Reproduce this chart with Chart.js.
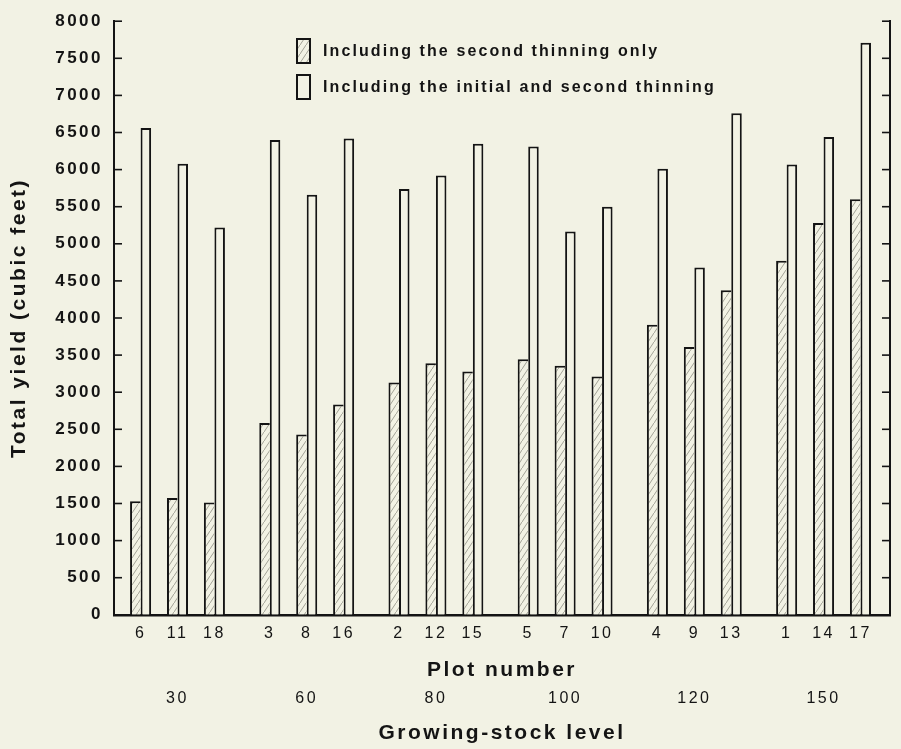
<!DOCTYPE html>
<html>
<head>
<meta charset="utf-8">
<title>Total yield by plot and growing-stock level</title>
<script src="https://cdn.jsdelivr.net/npm/chart.js@4/dist/chart.umd.min.js"></script>
<style>
  html, body { margin: 0; padding: 0; background: #f2f2e4; }
  canvas { display: block; }
</style>
</head>
<body>
<canvas id="yield" width="901" height="749"></canvas>
<script>
// Plot numbers, three plots per growing-stock level
const plotNumbers = ['6', '11', '18', '3', '8', '16', '2', '12', '15', '5', '7', '10', '4', '9', '13', '1', '14', '17'];
const growingStockLevels = ['30', '60', '80', '100', '120', '150'];

// Total yield in cubic feet
const secondThinningOnly = [1530, 1575, 1515, 2585, 2430, 2835, 3130, 3390, 3280, 3445, 3355, 3210, 3910, 3610, 4375, 4770, 5280, 5600];
const initialAndSecondThinning = [6560, 6080, 5220, 6400, 5660, 6420, 5740, 5920, 6350, 6310, 5165, 5500, 6010, 4680, 6760, 6070, 6440, 7710];

const seriesNames = ['Including the second thinning only', 'Including the initial and second thinning'];
const yTicks = { min: 0, max: 8000, step: 500 };

// Layout along the x axis: plots sit one unit apart, levels 3.5 units apart
const PLOTS_PER_LEVEL = 3;
const LEVEL_STEP = 3.5;
const plotPos = plotNumbers.map((_, i) => Math.floor(i / PLOTS_PER_LEVEL) * LEVEL_STEP + (i % PLOTS_PER_LEVEL));
const levelPos = growingStockLevels.map((_, g) => g * LEVEL_STEP + 1);
const X_MIN = -0.72, X_MAX = 20.3;

const PAPER = '#f2f2e4';
const INK = '#141414';
const FONT = "'Liberation Sans', Arial, Helvetica, sans-serif";
const SPACING = '2.5px';

function hatchPattern() {
  const w = 6, h = 9;
  const c = document.createElement('canvas');
  c.width = w; c.height = h;
  const g = c.getContext('2d');
  g.fillStyle = PAPER;
  g.fillRect(0, 0, w, h);
  g.strokeStyle = '#a2a296';
  g.lineWidth = 1;
  g.beginPath();
  g.moveTo(0, h);
  g.lineTo(w, 0);
  g.stroke();
  return g.createPattern(c, 'repeat');
}

// Paper background and the wide letter spacing of the printed type
const typeset = {
  id: 'typeset',
  beforeUpdate(chart) { chart.ctx.letterSpacing = SPACING; },
  beforeDraw(chart) {
    const c = chart.ctx;
    c.save();
    c.fillStyle = PAPER;
    c.fillRect(0, 0, chart.width, chart.height);
    c.restore();
    c.letterSpacing = SPACING;
  }
};

// Short tick marks pointing into the plot from both vertical axes
const innerTicks = {
  id: 'innerTicks',
  afterDatasetsDraw(chart) {
    const c = chart.ctx;
    const { left, right } = chart.chartArea;
    c.save();
    c.strokeStyle = INK;
    c.lineWidth = 1.6;
    [['y', left, 1], ['y2', right, -1]].forEach(([id, x0, dir]) => {
      const s = chart.scales[id];
      s.ticks.forEach(t => {
        const py = s.getPixelForValue(t.value);
        c.beginPath();
        c.moveTo(x0, py);
        c.lineTo(x0 + dir * 8, py);
        c.stroke();
      });
    });
    c.restore();
  }
};

// Key set inside the plot, under the top edge
const keyBox = {
  id: 'keyBox',
  afterDraw(chart) {
    const c = chart.ctx;
    const rows = [51, 87];
    c.save();
    c.letterSpacing = '2.1px';
    c.font = 'bold 16px ' + FONT;
    c.textBaseline = 'middle';
    chart.data.datasets.forEach((ds, i) => {
      const y = rows[i];
      c.fillStyle = ds.backgroundColor;
      c.fillRect(297, y - 12, 13, 24);
      c.strokeStyle = INK;
      c.lineWidth = 2;
      c.strokeRect(297, y - 12, 13, 24);
      c.fillStyle = INK;
      c.fillText(ds.label, 323, y + 1);
    });
    c.restore();
  }
};

const bottomTitle = (text, top) => ({
  display: true, text, color: INK,
  font: { family: FONT, size: 21, weight: 'bold' },
  padding: { top, bottom: 0 }
});

new Chart(document.getElementById('yield'), {
  type: 'bar',
  data: {
    datasets: [
      {
        label: seriesNames[0],
        data: plotPos.map((x, i) => ({ x, y: secondThinningOnly[i] })),
        backgroundColor: hatchPattern(),
        borderColor: INK,
        borderWidth: { left: 2, top: 2, right: 0, bottom: 0 },
        borderSkipped: 'start',
        categoryPercentage: 0.57,
        barPercentage: 1
      },
      {
        label: seriesNames[1],
        data: plotPos.map((x, i) => ({ x, y: initialAndSecondThinning[i] })),
        backgroundColor: PAPER,
        borderColor: INK,
        borderWidth: { left: 2, top: 2, right: 2, bottom: 0 },
        borderSkipped: 'start',
        categoryPercentage: 0.57,
        barPercentage: 1
      }
    ]
  },
  options: {
    responsive: false,
    animation: false,
    layout: { padding: { top: 20, bottom: 3.4, left: 0, right: 0 } },
    plugins: { legend: { display: false }, tooltip: { enabled: false } },
    scales: {
      x: {
        type: 'linear', position: 'bottom', bounds: 'data', offset: false,
        min: X_MIN, max: X_MAX,
        afterBuildTicks: s => { s.ticks = plotPos.map(v => ({ value: v })); },
        ticks: {
          autoSkip: false, maxRotation: 0, padding: 9, color: INK,
          font: { family: FONT, size: 16 },
          callback: (v, i) => plotNumbers[i]
        },
        grid: { display: false, drawTicks: false, offset: false },
        border: { display: true, color: INK, width: 2.5 },
        title: bottomTitle('Plot number', 6)
      },
      x2: {
        type: 'linear', position: 'bottom', bounds: 'data', offset: false,
        min: X_MIN, max: X_MAX,
        afterBuildTicks: s => { s.ticks = levelPos.map(v => ({ value: v })); },
        ticks: {
          autoSkip: false, maxRotation: 0, padding: 6, color: INK,
          font: { family: FONT, size: 16 },
          callback: (v, i) => growingStockLevels[i]
        },
        grid: { display: false, drawTicks: false },
        border: { display: false },
        title: bottomTitle('Growing-stock level', 6)
      },
      y: {
        position: 'left', min: yTicks.min, max: yTicks.max,
        afterFit: s => { s.width = 114; },
        ticks: {
          stepSize: yTicks.step, padding: 11, color: INK,
          font: { family: FONT, size: 17, weight: 'bold' },
          callback: v => String(v)
        },
        grid: { display: false, drawTicks: false },
        border: { display: true, color: INK, width: 2 },
        title: {
          display: true, text: 'Total yield (cubic feet)', color: INK,
          font: { family: FONT, size: 21, weight: 'bold' },
          padding: { top: 7, bottom: 0 }
        }
      },
      y2: {
        position: 'right', min: yTicks.min, max: yTicks.max,
        afterFit: s => { s.width = 11; },
        ticks: { display: false, stepSize: yTicks.step },
        grid: { display: false, drawTicks: false },
        border: { display: true, color: INK, width: 2 }
      }
    }
  },
  plugins: [typeset, innerTicks, keyBox]
});
</script>
</body>
</html>
